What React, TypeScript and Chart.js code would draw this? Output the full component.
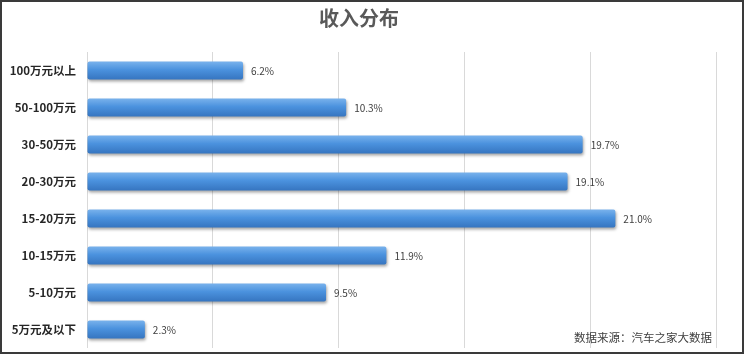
import React, { useEffect, useRef } from "react";
import { Chart, registerables } from "chart.js";

Chart.register(...registerables);

const categories = ["100万元以上", "50-100万元", "30-50万元", "20-30万元", "15-20万元", "10-15万元", "5-10万元", "5万元及以下"];
const shares = [6.2, 10.3, 19.7, 19.1, 21.0, 11.9, 9.5, 2.3];
const xTicks = [0, 5, 10, 15, 20, 25];
const titleText = "收入分布";
const sourceText = "数据来源：汽车之家大数据";

const FONT = "'Noto Sans CJK SC', 'Noto Sans', sans-serif";

export default function App() {
  const ref = useRef<HTMLCanvasElement | null>(null);

  useEffect(() => {
    document.body.style.margin = "0";
    const canvas = ref.current;
    if (!canvas) return;

    const shadowPlugin = {
      id: "barShadow",
      beforeDatasetDraw(chart: any) {
        const ctx = chart.ctx;
        ctx.save();
        ctx.shadowColor = "rgba(0,0,0,0.35)";
        ctx.shadowOffsetX = 1;
        ctx.shadowOffsetY = 2;
        ctx.shadowBlur = 3;
      },
      afterDatasetDraw(chart: any) {
        chart.ctx.restore();
      },
    };

    const labelPlugin = {
      id: "valueLabels",
      afterDatasetsDraw(chart: any) {
        const ctx = chart.ctx;
        const meta = chart.getDatasetMeta(0);
        ctx.save();
        ctx.font = `10px ${FONT}`;
        ctx.fillStyle = "#404040";
        ctx.textAlign = "left";
        ctx.textBaseline = "middle";
        meta.data.forEach((bar: any, i: number) => {
          ctx.fillText(shares[i].toFixed(1) + "%", bar.x + 8, bar.y + 1);
        });
        ctx.font = `11.5px ${FONT}`;
        ctx.fillStyle = "#404040";
        ctx.textAlign = "right";
        ctx.fillText(sourceText, chart.width - 30, chart.height - 14);
        ctx.restore();
      },
    };

    const chart = new Chart(canvas, {
      type: "bar",
      data: {
        labels: categories,
        datasets: [
          {
            data: shares,
            backgroundColor: (c: any) => {
              const ch = c.chart;
              const area = ch.chartArea;
              if (!area) return "#4a90dc";
              const yScale = ch.scales.y;
              const y = yScale.getPixelForValue(c.dataIndex);
              const g = ch.ctx.createLinearGradient(0, y - 9, 0, y + 9);
              g.addColorStop(0, "#79b2ec");
              g.addColorStop(0.45, "#4b92de");
              g.addColorStop(1, "#3675c0");
              return g;
            },
            borderWidth: 0,
            borderRadius: 2,
            borderSkipped: false,
            categoryPercentage: 1,
            barPercentage: 0.48,
          },
        ],
      },
      options: {
        indexAxis: "y",
        responsive: false,
        animation: false,
        layout: { padding: { top: 0, right: 26, bottom: 4, left: 0 } },
        plugins: {
          legend: { display: false },
          tooltip: { enabled: false },
          title: {
            display: true,
            text: titleText,
            color: "#595959",
            font: { family: FONT, size: 20, weight: "bold" },
            padding: { top: 4, bottom: 22 },
          },
        },
        scales: {
          x: {
            min: 0,
            max: 25,
            afterBuildTicks: (s: any) => {
              s.ticks = xTicks.map((v) => ({ value: v }));
            },
            afterFit: (s: any) => {
              s.height = 0;
              s.paddingLeft = 0;
              s.paddingRight = 0;
            },
            ticks: { display: false },
            grid: { color: "#d9d9d9", lineWidth: 1, drawTicks: false },
            border: { display: false },
          },
          y: {
            afterFit: (s: any) => {
              s.width = 85;
              s.paddingTop = 0;
              s.paddingBottom = 0;
            },
            ticks: {
              color: "#262626",
              font: { family: FONT, size: 11.5, weight: "bold" },
              padding: 11,
            },
            grid: { display: false, drawTicks: false },
            border: { display: false },
          },
        },
      },
      plugins: [shadowPlugin, labelPlugin],
    } as any);

    return () => chart.destroy();
  }, []);

  return (
    <div
      style={{
        position: "absolute",
        left: 0,
        top: 0,
        width: 744,
        height: 354,
        boxSizing: "border-box",
        border: "2px solid #3a3a3a",
        background: "#ffffff",
      }}
    >
      <canvas ref={ref} width={740} height={350} style={{ display: "block", width: 740, height: 350 }} />
    </div>
  );
}
